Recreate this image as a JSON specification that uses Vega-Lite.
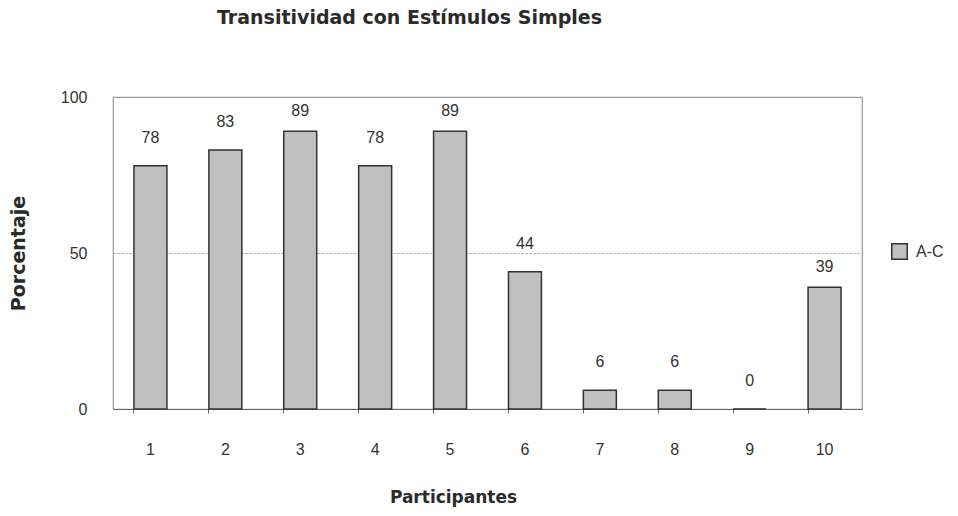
{
  "$schema": "https://vega.github.io/schema/vega-lite/v6.json",
  "autosize": "none",
  "width": 749,
  "height": 312,
  "padding": {"left": 113, "top": 97, "right": 96, "bottom": 107},
  "background": "white",
  "config": {
    "font": "Liberation Sans",
    "view": {"stroke": "#999999", "strokeWidth": 1.2}
  },
  "title": {
    "text": "Transitividad con Estímulos Simples",
    "anchor": "middle",
    "dx": -78,
    "offset": 46,
    "baseline": "alphabetic",
    "font": "DejaVu Sans",
    "fontSize": 19,
    "fontWeight": "bold",
    "color": "#2a2a2a"
  },
  "data": {
    "values": [
      {"participante": "1", "porcentaje": 78, "serie": "A-C"},
      {"participante": "2", "porcentaje": 83, "serie": "A-C"},
      {"participante": "3", "porcentaje": 89, "serie": "A-C"},
      {"participante": "4", "porcentaje": 78, "serie": "A-C"},
      {"participante": "5", "porcentaje": 89, "serie": "A-C"},
      {"participante": "6", "porcentaje": 44, "serie": "A-C"},
      {"participante": "7", "porcentaje": 6, "serie": "A-C"},
      {"participante": "8", "porcentaje": 6, "serie": "A-C"},
      {"participante": "9", "porcentaje": 0, "serie": "A-C"},
      {"participante": "10", "porcentaje": 39, "serie": "A-C"}
    ]
  },
  "encoding": {
    "x": {
      "field": "participante",
      "type": "ordinal",
      "sort": null,
      "scale": {"paddingInner": 0.56, "paddingOuter": 0.28},
      "axis": {
        "title": "Participantes",
        "titleFont": "DejaVu Sans",
        "titleFontSize": 17,
        "titleFontWeight": "bold",
        "titleColor": "#2a2a2a",
        "titleX": 340,
        "titleY": 88,
        "titleAlign": "center",
        "titleBaseline": "middle",
        "labelAngle": 0,
        "labelFontSize": 16,
        "labelColor": "#333333",
        "labelPadding": 28,
        "bandPosition": 0,
        "tickSize": 4,
        "tickColor": "#666666",
        "domainColor": "#666666",
        "domainWidth": 1.2,
        "grid": false
      }
    },
    "y": {
      "field": "porcentaje",
      "type": "quantitative",
      "scale": {"domain": [0, 100]},
      "axis": {
        "title": "Porcentaje",
        "titleFont": "DejaVu Sans",
        "titleFontSize": 19,
        "titleFontWeight": "bold",
        "titleColor": "#2a2a2a",
        "titleX": -95,
        "titleBaseline": "middle",
        "values": [0, 50, 100],
        "labelFontSize": 16,
        "labelColor": "#333333",
        "labelPadding": 26,
        "ticks": false,
        "domain": false,
        "grid": true,
        "gridDash": [2, 2],
        "gridColor": "#999999"
      }
    }
  },
  "layer": [
    {
      "mark": {"type": "bar", "stroke": "#333333", "strokeWidth": 1.5},
      "encoding": {
        "color": {
          "field": "serie",
          "type": "nominal",
          "scale": {"range": ["#c0c0c0"]},
          "legend": {
            "title": null,
            "orient": "none",
            "legendX": 778,
            "legendY": 146,
            "padding": 0,
            "symbolType": "square",
            "symbolSize": 240,
            "symbolStrokeColor": "#333333",
            "symbolStrokeWidth": 1.5,
            "labelFontSize": 16,
            "labelColor": "#333333",
            "labelOffset": 8
          }
        }
      }
    },
    {
      "transform": [{"filter": {"not": {"field": "participante", "oneOf": ["3", "5", "10"]}}}],
      "mark": {"type": "text", "baseline": "middle", "dy": -28, "fontSize": 16, "color": "#333333"},
      "encoding": {
        "text": {"field": "porcentaje", "type": "quantitative"}
      }
    },
    {
      "transform": [{"filter": {"field": "participante", "oneOf": ["3", "5", "10"]}}],
      "mark": {"type": "text", "baseline": "middle", "dy": -20, "fontSize": 16, "color": "#333333"},
      "encoding": {
        "text": {"field": "porcentaje", "type": "quantitative"}
      }
    }
  ]
}
